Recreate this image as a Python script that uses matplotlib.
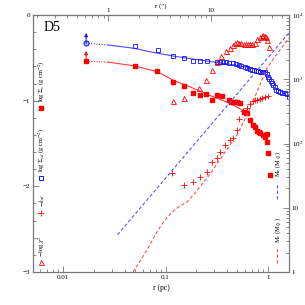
import matplotlib
matplotlib.use("Agg")
import matplotlib.pyplot as plt
import numpy as np
from matplotlib.ticker import FixedLocator, NullFormatter, LogLocator

plt.rcParams['font.family'] = ['Liberation Serif', 'DejaVu Serif']
plt.rcParams['mathtext.fontset'] = 'stix'

# ---------------- data ----------------
# Sigma_SD (blue open squares)  r in pc, log Sigma
blue_r = [0.0504, 0.0845, 0.118, 0.151, 0.185, 0.217, 0.254, 0.318, 0.34, 0.36,
          0.389, 0.42, 0.456, 0.49, 0.521, 0.55, 0.597, 0.63, 0.667, 0.70, 0.73,
          0.764, 0.80, 0.84, 0.873, 0.90, 0.935, 0.97, 1.0, 1.03, 1.06, 1.094,
          1.13, 1.17, 1.21, 1.25, 1.30, 1.37, 1.45, 1.53, 1.60]
blue_v = [-0.36, -0.41, -0.48, -0.50, -0.54, -0.54, -0.54, -0.55, -0.55, -0.55,
          -0.55, -0.56, -0.56, -0.57, -0.58, -0.59, -0.61, -0.62, -0.63, -0.64, -0.645,
          -0.65, -0.655, -0.66, -0.66, -0.665, -0.67, -0.69, -0.72, -0.75, -0.77, -0.79,
          -0.82, -0.84, -0.87, -0.89, -0.90, -0.91, -0.915, -0.92, -0.96]
blue_first_r, blue_first_v = 0.0168, -0.33
blue_fit_r = [0.0275, 0.0504, 0.0706, 0.12, 0.2, 0.3, 0.45, 0.7, 1.0]
blue_fit_v = [-0.35, -0.39, -0.43, -0.48, -0.52, -0.55, -0.58, -0.62, -0.67]

# Sigma_s (red filled squares)
red_r = [0.0504, 0.0827, 0.118, 0.151, 0.185, 0.217, 0.249, 0.285, 0.318, 0.356,
         0.416, 0.44, 0.456, 0.48, 0.499, 0.534, 0.584, 0.61, 0.624, 0.667, 0.713,
         0.747, 0.782, 0.81, 0.836, 0.894, 0.935, 0.978, 0.985, 1.0, 1.046]
red_v = [-0.60, -0.65, -0.78, -0.83, -0.91, -0.93, -0.92, -0.99, -0.93, -0.94,
         -0.99, -1.01, -1.02, -1.02, -1.02, -1.03, -1.13, -1.14, -1.14, -1.23, -1.28,
         -1.31, -1.35, -1.37, -1.38, -1.40, -1.42, -1.39, -1.48, -1.61, -1.87]
red_first_r, red_first_v = 0.0168, -0.54
red_fit_r = [0.0275, 0.0504, 0.0845, 0.118, 0.174, 0.30, 0.425, 0.624]
red_fit_v = [-0.55, -0.595, -0.665, -0.76, -0.84, -0.96, -1.03, -1.14]

# -log chi^2 (red open triangles)
tri_r = [0.118, 0.151, 0.212, 0.249, 0.285, 0.318, 0.349, 0.389, 0.425, 0.455,
         0.477, 0.499, 0.522, 0.546, 0.584, 0.61, 0.638, 0.667, 0.698, 0.747,
         0.782, 0.836, 0.865, 0.894, 0.925, 0.956, 0.978, 1.023]
tri_v = [-1.00, -0.97, -0.85, -0.76, -0.64, -0.55, -0.48, -0.42, -0.385, -0.35,
         -0.33, -0.315, -0.33, -0.33, -0.34, -0.34, -0.34, -0.34, -0.34, -0.33,
         -0.28, -0.26, -0.24, -0.23, -0.24, -0.26, -0.29, -0.37]

# -k_sd (red plus)
plus_r = [0.116, 0.151, 0.185, 0.217, 0.254, 0.285, 0.318, 0.341, 0.381, 0.425,
          0.456, 0.499, 0.521, 0.571, 0.624, 0.667, 0.713, 0.75, 0.782, 0.83,
          0.873, 0.935, 1.0]
plus_v = [-1.84, -1.98, -1.95, -1.89, -1.83, -1.72, -1.67, -1.60, -1.52, -1.46,
          -1.44, -1.34, -1.21, -1.12, -1.09, -1.04, -1.00, -0.99, -0.99, -0.98,
          -0.97, -0.96, -0.945]

# masses (right axis)
mv_r = [0.034, 1.60]
mv_m = [3.8, 5250]
ms_r = [0.0482, 0.0564, 0.0660, 0.0845, 0.0989, 0.116, 0.138, 0.162, 0.194, 0.232,
        0.272, 0.318, 0.364, 0.426, 0.499, 0.624, 0.781, 0.978, 1.22, 1.60]
ms_m = [1.0, 1.48, 2.20, 4.51, 6.44, 8.59, 10.6, 12.3, 17.0, 24.3,
        33.5, 48.0, 66.2, 94.8, 136, 278, 634, 1496, 2472, 4385]

arcsec_pc = 0.0276

# ---------------- figure ----------------
fig = plt.figure(figsize=(3.05, 3.05), dpi=100)
ax = fig.add_axes([0.1082, 0.1082, 0.8393, 0.8426])
ax2 = ax.twinx()

RED = '#ff0000'
BLUE = '#1010ff'
lc = '#777777'

ax.set_xscale('log')
ax.set_xlim(0.00509, 1.603)
ax.set_ylim(-3, 0)
ax2.set_yscale('log')
ax2.set_ylim(1, 1e4)

# fits
ax.plot([blue_first_r, blue_fit_r[0]], [blue_first_v, blue_fit_v[0]], ':', color=BLUE, lw=0.7)
ax.plot(blue_fit_r, blue_fit_v, '-', color='#4a4aff', lw=0.8)
ax.plot([red_first_r, red_fit_r[0]], [red_first_v, red_fit_v[0]], ':', color=RED, lw=0.7)
ax.plot(red_fit_r, red_fit_v, '-', color='#ff3a3a', lw=0.8)

# mass curves
ax2.plot(mv_r, mv_m, color='#5555ff', lw=0.8, dashes=(3, 2))
ax2.plot(ms_r, ms_m, color='#ff5050', lw=0.8, dashes=(3, 2))

# points
ax.plot(blue_r, blue_v, 's', mfc='none', mec=BLUE, ms=3.4, mew=0.6, ls='none')
ax.plot([blue_first_r], [blue_first_v], 'o', mfc='#aab0ff', mec=BLUE, ms=3.6, mew=0.7)
ax.plot(red_r, red_v, 's', color=RED, ms=2.8, ls='none')
ax.plot([red_first_r], [red_first_v], 's', color=RED, ms=2.8)
ax.plot(tri_r, tri_v, '^', mfc='none', mec=RED, ms=3.6, mew=0.6, ls='none')
ax.plot(plus_r, plus_v, '+', color=RED, ms=4.5, mew=0.6, ls='none')

# upper-limit arrows
ax.annotate('', xy=(blue_first_r, blue_first_v + 0.12), xytext=(blue_first_r, blue_first_v),
            arrowprops=dict(arrowstyle='-|>', color=BLUE, lw=0.7, mutation_scale=5, shrinkA=0, shrinkB=0))
ax.annotate('', xy=(red_first_r, red_first_v + 0.12), xytext=(red_first_r, red_first_v),
            arrowprops=dict(arrowstyle='-|>', color=RED, lw=0.7, mutation_scale=5, shrinkA=0, shrinkB=0))

# ticks
ax.set_yticks([0, -1, -2, -3])
ax.set_yticklabels(['0', '\u22121', '\u22122', '\u22123'])
ax.yaxis.set_minor_locator(FixedLocator(np.arange(-3, 0.01, 0.2)))
ax.set_xticks([0.01, 0.1, 1])
ax.set_xticklabels(['0.01', '0.1', '1'])
ax.xaxis.set_minor_locator(LogLocator(base=10, subs=np.arange(2, 10)))
ax.xaxis.set_minor_formatter(NullFormatter())

ax2.set_yticks([1, 10, 100, 1000, 10000])
ax2.set_yticklabels(['1', '10', '10$^2$', '10$^3$', '10$^4$'])
ax2.yaxis.set_minor_locator(LogLocator(base=10, subs=np.arange(2, 10)))
ax2.yaxis.set_minor_formatter(NullFormatter())

sec = ax.secondary_xaxis('top', functions=(lambda r: r / arcsec_pc, lambda a: a * arcsec_pc))
sec.set_xticks([1, 10])
sec.set_xticklabels(['1', '10'])
sec.xaxis.set_minor_locator(LogLocator(base=10, subs=np.arange(2, 10)))
sec.xaxis.set_minor_formatter(NullFormatter())

for a in (ax, ax2):
    a.tick_params(which='both', direction='in', labelsize=5, color=lc, width=0.6, pad=2)
    a.tick_params(which='major', length=4)
    a.tick_params(which='minor', length=2)
sec.tick_params(which='both', direction='in', labelsize=5, color=lc, width=0.6, pad=1.2)
sec.tick_params(which='major', length=4)
sec.tick_params(which='minor', length=2)
for s in list(ax.spines.values()) + list(ax2.spines.values()) + list(sec.spines.values()):
    s.set_color(lc)
    s.set_linewidth(0.8)

ax.set_xlabel('r (pc)', fontsize=5.5, labelpad=3)
sec.set_xlabel('r (\u2033)', fontsize=5, labelpad=0.5)

ax.text(0.074, 0.95, 'D5', transform=ax.transAxes, fontsize=10, ha='center', va='center')

# in-axes legends (left)
lx = 0.031
fs = 4.6
ax.plot([lx], [0.638], 's', color=RED, ms=2.8, transform=ax.transAxes)
ax.text(lx + 0.004, 0.66, r'log $\Sigma_s$ (g cm$^{-2}$)', rotation=90, transform=ax.transAxes,
        fontsize=fs, ha='center', va='bottom')
ax.plot([lx], [0.366], 's', mfc='none', mec=BLUE, ms=3.3, mew=0.7, transform=ax.transAxes)
ax.text(lx + 0.004, 0.388, r'log $\Sigma_{sd}$ (g cm$^{-2}$)', rotation=90, transform=ax.transAxes,
        fontsize=fs, ha='center', va='bottom')
ax.plot([lx], [0.230], '+', color=RED, ms=4.5, mew=0.6, transform=ax.transAxes)
ax.text(lx + 0.004, 0.252, r'$-k_{sd}$', rotation=90, transform=ax.transAxes,
        fontsize=fs, ha='center', va='bottom')
ax.plot([lx], [0.039], '^', mfc='none', mec=RED, ms=3.6, mew=0.6, transform=ax.transAxes)
ax.text(lx + 0.004, 0.06, r'$-$log $\chi^2$', rotation=90, transform=ax.transAxes,
        fontsize=fs, ha='center', va='bottom')

# right legends
rx = 0.953
ax.plot([rx, rx], [0.284, 0.350], color='#5555ff', lw=0.8, dashes=(3, 2), transform=ax.transAxes)
ax.text(rx + 0.004, 0.37, r'M$_e$ (M$_\odot$)', rotation=90, transform=ax.transAxes,
        fontsize=fs, ha='center', va='bottom')
ax.plot([rx, rx], [0.035, 0.097], color='#ff5050', lw=0.8, dashes=(3, 2), transform=ax.transAxes)
ax.text(rx + 0.004, 0.113, r'M$_s$ (M$_\odot$)', rotation=90, transform=ax.transAxes,
        fontsize=fs, ha='center', va='bottom')

fig.savefig('out.png', dpi=100)
